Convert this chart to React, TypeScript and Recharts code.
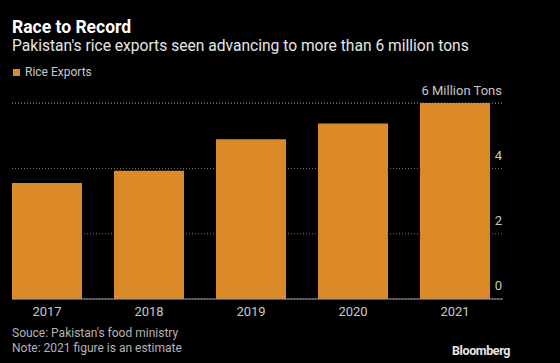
import { BarChart, Bar, XAxis, YAxis, CartesianGrid, ReferenceLine } from 'recharts'

const years = ['2017', '2018', '2019', '2020', '2021']
const exports = [3.56, 3.93, 4.9, 5.38, 6.01]
const yTicks = [0, 2, 4, 6]

const data = years.map((year, i) => ({ year, value: exports[i] }))

const FONT = 'Roboto, "Open Sans", sans-serif'
const ORANGE = '#DC8A27'

const RightTick = (props: any) => {
    const { y, payload } = props
    const label = payload.value === 6 ? '6 Million Tons' : `${payload.value}`
    return (
        <text x={502} y={y - 12} textAnchor='end' dominantBaseline='middle'
            fill='#c8c8c8' fontSize={13} fontFamily={FONT}>
            {label}
        </text>
    )
}

const App = () => {
    return (
        <div style={{ position: 'absolute', left: 0, top: 0, width: 560, height: 363, background: '#000', fontFamily: FONT, overflow: 'hidden' }}>
            <div style={{ position: 'absolute', left: 12, top: 17, color: '#fff', fontSize: 17.5, fontWeight: 700 }}>Race to Record</div>
            <div style={{ position: 'absolute', left: 12, top: 37, color: '#e6e6e6', fontSize: 15.6 }}>
                Pakistan's rice exports seen advancing to more than 6 million tons
            </div>
            <div style={{ position: 'absolute', left: 13, top: 65, color: '#c8c8c8', fontSize: 12, display: 'flex', alignItems: 'center' }}>
                <span style={{ width: 7, height: 7, background: ORANGE, display: 'inline-block', marginRight: 5 }} />
                Rice Exports
            </div>
            <BarChart width={560} height={363} data={data}
                margin={{ top: 103, right: 56, bottom: 0, left: 12 }}
                barCategoryGap={16}>
                <CartesianGrid vertical={false} stroke='#777' strokeDasharray='1 2' />
                <XAxis dataKey='year' height={64} padding={{ left: -16, right: -3 }}
                    axisLine={false} tickLine={false}
                    tick={{ fill: '#c8c8c8', fontSize: 13, fontFamily: FONT }} />
                <YAxis orientation='right' width={1} domain={[0, 6]} ticks={yTicks}
                    axisLine={false} tickLine={false} tick={RightTick} />
                <Bar dataKey='value' fill={ORANGE} isAnimationActive={false} />
                <ReferenceLine y={0} stroke='#9a9a9a' strokeWidth={1} />
            </BarChart>
            <div style={{ position: 'absolute', left: 12, top: 326, color: '#b4b4b4', fontSize: 12, lineHeight: '15px' }}>
                <div>Souce: Pakistan's food ministry</div>
                <div>Note: 2021 figure is an estimate</div>
            </div>
            <div style={{ position: 'absolute', right: 50, top: 343, color: '#e6e6e6', fontSize: 12.5, fontWeight: 700, letterSpacing: -0.4 }}>Bloomberg</div>
        </div>
    )
}

export default App
